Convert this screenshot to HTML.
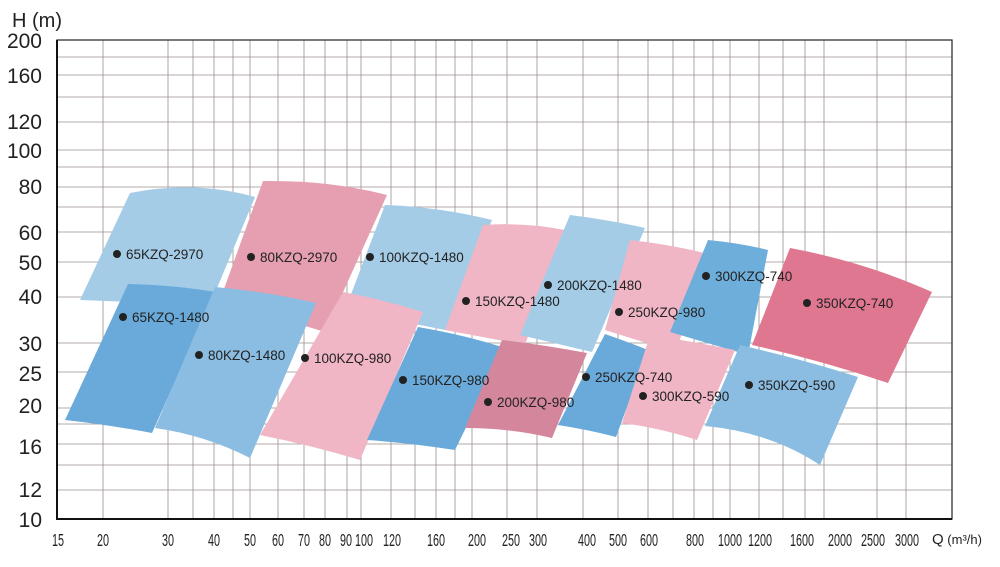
<!DOCTYPE html>
<html><head><meta charset="utf-8"><style>
body{margin:0;background:#fff}
svg{display:block;font-family:"Liberation Sans",sans-serif}
</style></head><body>
<svg width="1000" height="567" viewBox="0 0 1000 567">
<g stroke="#9a8f8c" stroke-width="0.8">
<line x1="57" x2="952" y1="57" y2="57"/><line x1="57" x2="952" y1="75" y2="75"/><line x1="57" x2="952" y1="97" y2="97"/><line x1="57" x2="952" y1="122" y2="122"/><line x1="57" x2="952" y1="150" y2="150"/><line x1="57" x2="952" y1="167" y2="167"/><line x1="57" x2="952" y1="187" y2="187"/><line x1="57" x2="952" y1="207" y2="207"/><line x1="57" x2="952" y1="232" y2="232"/><line x1="57" x2="952" y1="262" y2="262"/><line x1="57" x2="952" y1="297" y2="297"/><line x1="57" x2="952" y1="343" y2="343"/><line x1="57" x2="952" y1="372" y2="372"/><line x1="57" x2="952" y1="408" y2="408"/><line x1="57" x2="952" y1="424" y2="424"/><line x1="57" x2="952" y1="444" y2="444"/><line x1="57" x2="952" y1="465" y2="465"/><line x1="57" x2="952" y1="490" y2="490"/>
<line y1="40" y2="519" x1="103" x2="103"/><line y1="40" y2="519" x1="168" x2="168"/><line y1="40" y2="519" x1="193" x2="193"/><line y1="40" y2="519" x1="214" x2="214"/><line y1="40" y2="519" x1="233" x2="233"/><line y1="40" y2="519" x1="250" x2="250"/><line y1="40" y2="519" x1="278" x2="278"/><line y1="40" y2="519" x1="304" x2="304"/><line y1="40" y2="519" x1="325" x2="325"/><line y1="40" y2="519" x1="347" x2="347"/><line y1="40" y2="519" x1="361" x2="361"/><line y1="40" y2="519" x1="391" x2="391"/><line y1="40" y2="519" x1="415" x2="415"/><line y1="40" y2="519" x1="436" x2="436"/><line y1="40" y2="519" x1="455" x2="455"/><line y1="40" y2="519" x1="472" x2="472"/><line y1="40" y2="519" x1="507" x2="507"/><line y1="40" y2="519" x1="537" x2="537"/><line y1="40" y2="519" x1="583" x2="583"/><line y1="40" y2="519" x1="618" x2="618"/><line y1="40" y2="519" x1="648" x2="648"/><line y1="40" y2="519" x1="673" x2="673"/><line y1="40" y2="519" x1="694" x2="694"/><line y1="40" y2="519" x1="713" x2="713"/><line y1="40" y2="519" x1="730" x2="730"/><line y1="40" y2="519" x1="759" x2="759"/><line y1="40" y2="519" x1="783" x2="783"/><line y1="40" y2="519" x1="805" x2="805"/><line y1="40" y2="519" x1="824" x2="824"/><line y1="40" y2="519" x1="877" x2="877"/><line y1="40" y2="519" x1="906" x2="906"/>
</g>
<!-- upper row -->
<path d="M130,193 Q195,180 255,197 L210,305 L80,300 Z" fill="#a5cce7"/>
<path d="M263,181 Q330,180 387,195 L325,332 L220,300 Z" fill="#e59fb1"/>
<path d="M385,205 Q440,207 492,220 L445,330 L345,310 Z" fill="#a5cce7"/>
<path d="M483,225 Q525,222 565,230 L525,345 L445,330 Z" fill="#f0b6c6"/>
<path d="M570,215 Q610,220 645,228 L592,352 L520,335 Z" fill="#a5cce7"/>
<path d="M630,240 Q675,245 712,255 L675,352 L605,330 Z" fill="#f0b6c6"/>
<path d="M708,240 Q740,243 768,250 L748,355 L670,332 Z" fill="#6eaedb"/>
<!-- lower row -->
<path d="M128,284 Q175,285 215,292 L152,433 Q110,425 65,420 Z" fill="#6aaada"/>
<path d="M215,287 Q270,292 316,303 L250,458 Q205,435 155,428 Z" fill="#8bbde2"/>
<path d="M343,292 Q385,300 423,312 L360,460 Q310,445 260,435 Z" fill="#f0b6c6"/>
<path d="M418,327 Q465,335 505,348 L455,450 Q410,443 367,440 Z" fill="#6aaada"/>
<path d="M502,340 Q545,345 587,353 L552,438 Q510,428 465,428 Z" fill="#d4879c"/>
<path d="M605,334 Q628,342 648,350 L616,437 Q590,430 558,425 Z" fill="#6aaada"/>
<path d="M650,335 Q695,342 735,350 L697,440 Q660,428 622,423 Z" fill="#f0b6c6"/>
<path d="M740,345 Q805,360 858,377 L820,465 Q770,432 705,426 Z" fill="#8bbde2"/>
<path d="M790,248 Q865,262 932,292 L888,383 Q820,360 752,345 Z" fill="#df7790"/>
<!-- axes -->
<rect x="57" y="40" width="895" height="479" fill="none" stroke="#222" stroke-width="1.2"/>
<line x1="57" y1="40" x2="57" y2="520" stroke="#111" stroke-width="2"/>
<line x1="56" y1="519" x2="952" y2="519" stroke="#111" stroke-width="2"/>
<g font-size="21" fill="#222" text-anchor="end">
<text x="42" y="48">200</text><text x="42" y="83">160</text><text x="42" y="129">120</text><text x="42" y="158">100</text><text x="42" y="194">80</text><text x="42" y="240">60</text><text x="42" y="270">50</text><text x="42" y="304">40</text><text x="42" y="351">30</text><text x="42" y="381">25</text><text x="42" y="413">20</text><text x="42" y="454">16</text><text x="42" y="497">12</text><text x="42" y="527">10</text>
</g>
<text x="12" y="27" font-size="20" fill="#222">H (m)</text>
<g font-size="18" fill="#222" text-anchor="middle">
<text transform="translate(58,546) scale(0.6,1)">15</text>
<text transform="translate(103,546) scale(0.6,1)">20</text>
<text transform="translate(168,546) scale(0.6,1)">30</text>
<text transform="translate(214,546) scale(0.6,1)">40</text>
<text transform="translate(250,546) scale(0.6,1)">50</text>
<text transform="translate(278,546) scale(0.6,1)">60</text>
<text transform="translate(304,546) scale(0.6,1)">70</text>
<text transform="translate(325,546) scale(0.6,1)">80</text>
<text transform="translate(346,546) scale(0.6,1)">90</text>
<text transform="translate(364,546) scale(0.6,1)">100</text>
<text transform="translate(392,546) scale(0.6,1)">120</text>
<text transform="translate(436,546) scale(0.6,1)">160</text>
<text transform="translate(477,546) scale(0.6,1)">200</text>
<text transform="translate(511,546) scale(0.6,1)">250</text>
<text transform="translate(538,546) scale(0.6,1)">300</text>
<text transform="translate(587,546) scale(0.6,1)">400</text>
<text transform="translate(618,546) scale(0.6,1)">500</text>
<text transform="translate(649,546) scale(0.6,1)">600</text>
<text transform="translate(695,546) scale(0.6,1)">800</text>
<text transform="translate(730,546) scale(0.6,1)">1000</text>
<text transform="translate(760,546) scale(0.6,1)">1200</text>
<text transform="translate(802,546) scale(0.6,1)">1600</text>
<text transform="translate(840,546) scale(0.6,1)">2000</text>
<text transform="translate(873,546) scale(0.6,1)">2500</text>
<text transform="translate(907,546) scale(0.6,1)">3000</text>
</g>
<text x="932" y="544" font-size="15" fill="#222">Q<tspan font-size="13"> (m³/h)</tspan></text>
<g font-size="13.5" fill="#222">
<circle cx="117" cy="254" r="4"/><text x="126" y="259">65KZQ-2970</text>
<circle cx="251" cy="257" r="4"/><text x="260" y="262">80KZQ-2970</text>
<circle cx="370" cy="257" r="4"/><text x="379" y="262">100KZQ-1480</text>
<circle cx="466" cy="301" r="4"/><text x="475" y="306">150KZQ-1480</text>
<circle cx="548" cy="285" r="4"/><text x="557" y="290">200KZQ-1480</text>
<circle cx="619" cy="312" r="4"/><text x="628" y="317">250KZQ-980</text>
<circle cx="706" cy="276" r="4"/><text x="715" y="281">300KZQ-740</text>
<circle cx="807" cy="303" r="4"/><text x="816" y="308">350KZQ-740</text>
<circle cx="123" cy="317" r="4"/><text x="132" y="322">65KZQ-1480</text>
<circle cx="199" cy="355" r="4"/><text x="208" y="360">80KZQ-1480</text>
<circle cx="305" cy="358" r="4"/><text x="314" y="363">100KZQ-980</text>
<circle cx="403" cy="380" r="4"/><text x="412" y="385">150KZQ-980</text>
<circle cx="488" cy="402" r="4"/><text x="497" y="407">200KZQ-980</text>
<circle cx="586" cy="377" r="4"/><text x="595" y="382">250KZQ-740</text>
<circle cx="643" cy="396" r="4"/><text x="652" y="401">300KZQ-590</text>
<circle cx="749" cy="385" r="4"/><text x="758" y="390">350KZQ-590</text>
</g>
</svg>
</body></html>
